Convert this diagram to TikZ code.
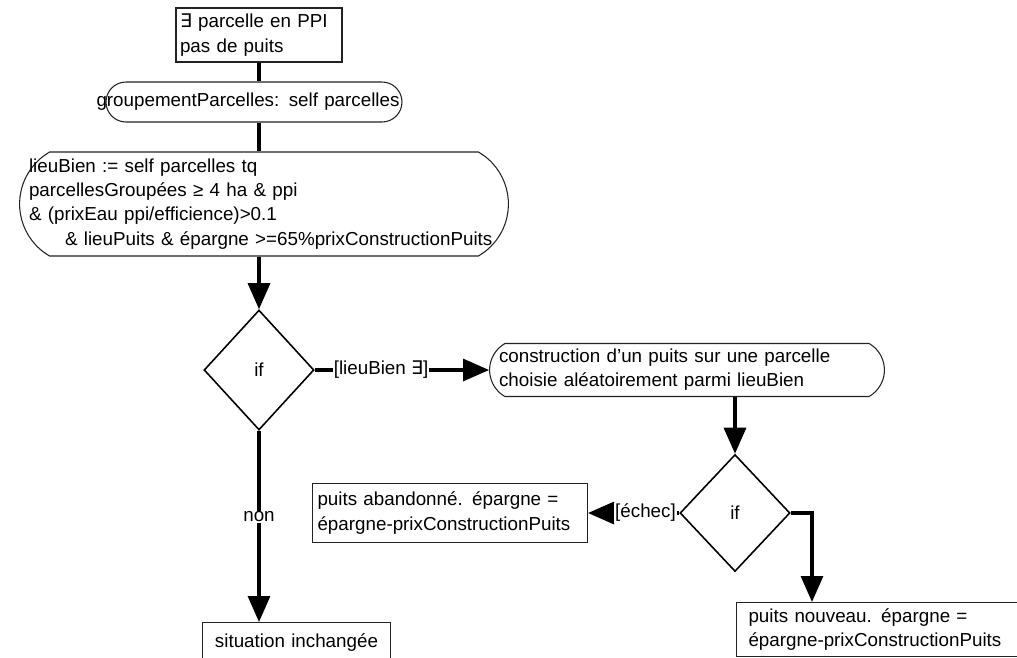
\documentclass[tikz,border=0pt]{standalone}
\usepackage{fontspec}
\setmainfont{Liberation Sans}
\newfontfamily\symbfont{DejaVu Sans}
\usepackage{tikz}
\usetikzlibrary{positioning,arrows.meta,shapes.geometric,shapes.misc}
\definecolor{edgegray}{HTML}{222222}
\hyphenpenalty=10000
\exhyphenpenalty=10000
\tikzset{
  txt/.style={font=\fontsize{10.7}{13.8}\selectfont},
  plainbox/.style={txt, draw=edgegray, line width=0.6pt, rectangle, align=left, inner ysep=0pt},
  ovalbox/.style={txt, draw=edgegray, line width=0.6pt, rounded rectangle, align=left, inner ysep=0pt},
  decision/.style={txt, draw=black, line width=0.9pt, diamond, inner sep=0pt},
  link/.style={line width=1.8pt},
  flow/.style={link, -{Triangle[length=0.52cm,width=0.44cm]}},
  lbl/.style={txt, fill=white, inner sep=0.5pt},
}

\begin{document}
\begin{tikzpicture}[x=0.02cm, y=-0.02cm]
    \clip (0,0) rectangle (1017,657);
    % states
    \node[plainbox, minimum width=3.32cm, minimum height=1.08cm, text width=3.16cm, inner xsep=0.08cm]
      (start) at (259,35) {{\symbfont ∃} parcelle en PPI\\pas de puits};
    \node[ovalbox, minimum height=0.8cm, text width=6.3cm, inner xsep=-0.23cm]
      (grp) at (254,102) {groupementParcelles: self parcelles};
    \node[ovalbox, rounded rectangle arc length=120, minimum height=2.08cm, text width=9.4cm, inner xsep=-0.22cm]
      (lieu) at (264,204) {lieuBien := self parcelles tq\\
        parcellesGroupées ≥ 4 ha \& ppi\\
        \& (prixEau ppi/efficience)>0.1\\
        \hspace*{0.72cm}\& lieuPuits \& épargne >=65\%prixConstructionPuits};
    \node[decision, minimum width=2.2cm, minimum height=2.4cm] (if1) at (259,370) {if};
    \node[ovalbox, rounded rectangle arc length=120, minimum height=1.06cm, text width=7.52cm, inner xsep=0.024cm]
      (constr) at (687,370) {construction d'un puits sur une parcelle\\choisie aléatoirement parmi lieuBien};
    \node[decision, minimum width=2.2cm, minimum height=2.34cm] (if2) at (735,513) {if};
    \node[plainbox, minimum width=5.5cm, minimum height=1.18cm, text width=5.3cm, inner xsep=0.1cm]
      (abandon) at (450,513) {puits abandonné. épargne =\\épargne-prixConstructionPuits};
    \node[plainbox, anchor=north west, minimum width=5.8cm, minimum height=1.08cm, text width=5.32cm, inner xsep=0.24cm]
      (nouveau) at (736,602) {puits nouveau. épargne =\\épargne-prixConstructionPuits};
    \node[plainbox, anchor=north west, align=center, minimum width=3.76cm, minimum height=0.8cm, text width=3.5cm, inner xsep=0.13cm]
      (inchange) at (202,622) {situation inchangée};
    \coordinate (nouveauIn) at ([xshift=1.52cm]nouveau.north west);
    % connectors
    \draw[link] (start.south) -- (start.south |- grp.north);
    \draw[link] (start.south |- grp.south) -- (start.south |- lieu.north);
    \draw[flow] (start.south |- lieu.south) -- (if1.north);
    \draw[flow] (if1.east) -- node[lbl, pos=0.38] {[lieuBien {\symbfont ∃}]} (constr.west);
    \draw[flow] (constr.south -| if2.north) -- (if2.north);
    \draw[flow] (if2.west) -- node[lbl, pos=0.37] {[échec]} (abandon.east);
    \draw[flow] (if2.east) -| (nouveauIn);
    \draw[flow] (if1.south) -- node[lbl, pos=0.45] {non} (if1.south |- inchange.north);
  \end{tikzpicture}
\end{document}
